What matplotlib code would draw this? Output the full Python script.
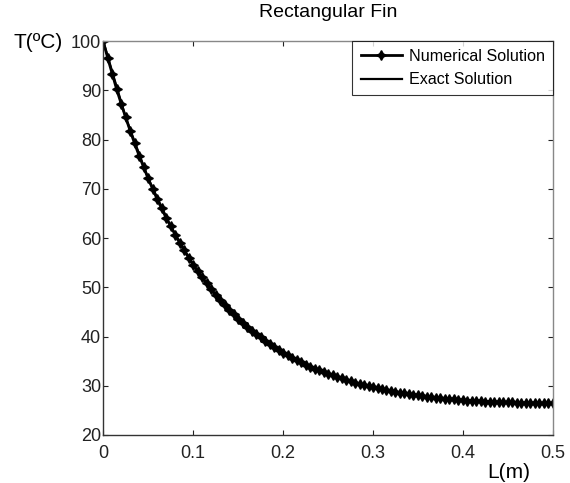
import matplotlib
matplotlib.use('Agg')
import matplotlib.pyplot as plt
import numpy as np

plt.rcParams['font.family'] = ['Liberation Sans', 'DejaVu Sans']

# fin length positions (m), numerical solution every 0.005 m
L_num = np.linspace(0, 0.5, 101)
T_num = [100.0, 96.6, 93.4, 90.2, 87.3, 84.5, 81.8, 79.2, 76.7, 74.4,
         72.1, 70.0, 67.9, 66.0, 64.1, 62.4, 60.7, 59.0, 57.5, 56.0,
         54.6, 53.3, 52.0, 50.8, 49.6, 48.5, 47.4, 46.4, 45.4, 44.5,
         43.6, 42.8, 42.0, 41.2, 40.5, 39.8, 39.1, 38.5, 37.9, 37.3,
         36.7, 36.2, 35.7, 35.2, 34.8, 34.3, 33.9, 33.5, 33.1, 32.8,
         32.4, 32.1, 31.8, 31.5, 31.2, 30.9, 30.6, 30.4, 30.2, 29.9,
         29.7, 29.5, 29.3, 29.1, 29.0, 28.8, 28.6, 28.5, 28.3, 28.2,
         28.1, 28.0, 27.8, 27.7, 27.6, 27.5, 27.4, 27.3, 27.3, 27.2,
         27.1, 27.0, 27.0, 26.9, 26.9, 26.8, 26.8, 26.7, 26.7, 26.6,
         26.6, 26.6, 26.5, 26.5, 26.5, 26.5, 26.5, 26.5, 26.4, 26.4,
         26.4]

# exact solution, every 0.025 m
L_exact = np.linspace(0, 0.5, 21)
T_exact = [100.0, 84.5, 72.1, 62.4, 54.6, 48.5, 43.6, 39.8, 36.7, 34.3,
           32.4, 30.9, 29.7, 28.8, 28.1, 27.5, 27.1, 26.8, 26.6, 26.5, 26.4]

xticks = [0, 0.1, 0.2, 0.3, 0.4, 0.5]
xticklabels = ['0', '0.1', '0.2', '0.3', '0.4', '0.5']
yticks = [20, 30, 40, 50, 60, 70, 80, 90, 100]

fig = plt.figure(figsize=(5.7, 4.83), dpi=100)
ax = fig.add_axes([0.181, 0.0994, 0.789, 0.8156])

ax.plot(L_num, T_num, color='black', lw=2.0, marker=(4, 1, 0),
        markersize=7, markeredgewidth=1.0, label='Numerical Solution')
ax.plot(L_exact, T_exact, color='black', lw=1.6, label='Exact Solution')

ax.set_xlim(0, 0.5)
ax.set_ylim(20, 100)
ax.set_xticks(xticks)
ax.set_xticklabels(xticklabels)
ax.set_yticks(yticks)
ax.tick_params(direction='in', length=3.5, width=0.8, top=True, right=True,
               labelsize=13, colors='#222222')
ax.tick_params(axis='x', pad=7)
ax.tick_params(axis='y', pad=1.5)
for side in ['left', 'bottom']:
    ax.spines[side].set_color('#333333')
for side in ['top', 'right']:
    ax.spines[side].set_color('#888888')
for sp in ax.spines.values():
    sp.set_linewidth(1.0)

ax.set_title('Rectangular Fin', fontsize=14, pad=17)
fig.text(13 / 570, 1 - 42 / 483, 'T(ºC)', fontsize=15, va='center', ha='left')
fig.text(509 / 570, 1 - 473 / 483, 'L(m)', fontsize=15, va='center', ha='center')

leg = ax.legend(loc='upper right', fontsize=11.6, frameon=True, fancybox=False,
                borderaxespad=0, handlelength=2.6, borderpad=0.5,
                labelspacing=0.5, handletextpad=0.4)
leg.get_frame().set_edgecolor('black')
leg.get_frame().set_linewidth(0.8)

plt.savefig('out.png', dpi=100)
plt.close()
